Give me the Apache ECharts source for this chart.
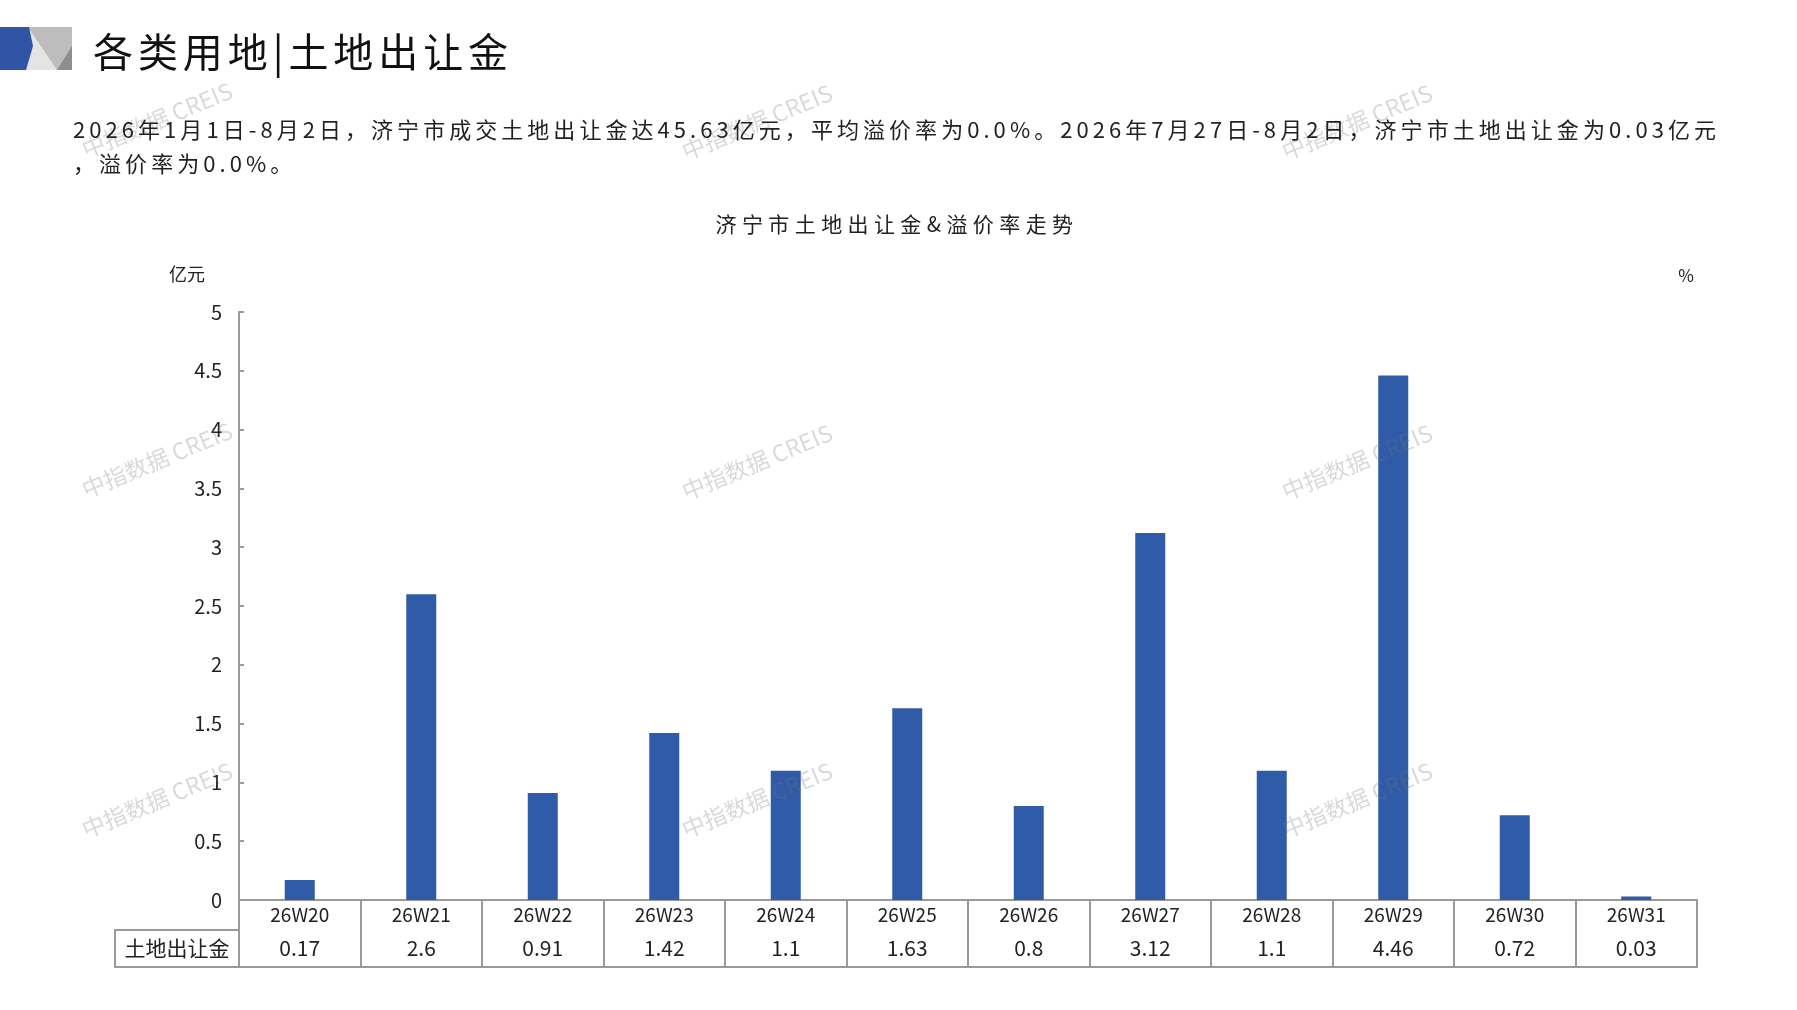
<!DOCTYPE html>
<html>
<head>
<meta charset="utf-8">
<script src="https://cdn.jsdelivr.net/npm/echarts@6/dist/echarts.min.js"></script>
<style>
  html, body { margin:0; padding:0; background:#fff; }
  #wrap { position:relative; width:1797px; height:1010px; overflow:hidden; background:#fff; }
  #chart { position:absolute; left:0; top:0; width:1797px; height:1010px; }
  .txt { position:absolute; white-space:nowrap; font-family:"Noto Sans CJK SC","Noto Sans",sans-serif; pointer-events:none; }
</style>
</head>
<body>
<div id="wrap">
  <div id="chart"></div>
  <svg style="position:absolute;left:0;top:0" width="80" height="80">
    <polygon points="25,27 72,27 72,70 25,70" fill="#bdbdbd"/>
    <polygon points="30,30 25,70 57,70" fill="#e4e4e4"/>
    <polygon points="57,70 72,70 72,46" fill="#8e8e8e"/>
    <polygon points="0,27 29,27 33,46 26,70 0,70" fill="#2F55A4"/>
  </svg>
  <div class="txt" id="hdr" data-w="420" style="left:93px;top:20px;font-size:40px;line-height:60px;color:#111;"></div>
  <div class="txt" id="p1" data-w="1647" style="left:73px;top:111px;font-size:22px;line-height:34px;color:#222;"></div>
  <div class="txt" id="p2" style="left:73px;top:145px;font-size:22px;line-height:34px;color:#222;"></div>
  <div class="txt" id="ctitle" data-w="363" style="top:208px;font-size:21px;line-height:30px;color:#222;"></div>
</div>
<script>
// ---- data ----
const pageTitle = "各类用地|土地出让金";
const paraLine1 = "2026年1月1日-8月2日，济宁市成交土地出让金达45.63亿元，平均溢价率为0.0%。2026年7月27日-8月2日，济宁市土地出让金为0.03亿元";
const paraLine2 = "，溢价率为0.0%。";
const chartTitle = "济宁市土地出让金&溢价率走势";
const categories = ["26W20","26W21","26W22","26W23","26W24","26W25","26W26","26W27","26W28","26W29","26W30","26W31"];
const landFee = [0.17, 2.6, 0.91, 1.42, 1.1, 1.63, 0.8, 3.12, 1.1, 4.46, 0.72, 0.03];
const seriesName = "土地出让金";
const leftAxisName = "亿元";
const rightAxisName = "%";
const watermarkText = "中指数据 CREIS";

// ---- html texts ----
document.getElementById('hdr').textContent = pageTitle;
document.getElementById('p1').textContent = paraLine1;
document.getElementById('p2').textContent = paraLine2;
document.getElementById('ctitle').textContent = chartTitle;
function fit(el) {
  const target = +el.dataset.w;
  el.style.letterSpacing = '0px';
  const w = el.getBoundingClientRect().width;
  const n = el.textContent.length;
  const ls = (target - w) / n;
  el.style.letterSpacing = ls + 'px';
  return ls;
}
fit(document.getElementById('hdr'));
const lsP = fit(document.getElementById('p1'));
document.getElementById('p2').style.letterSpacing = lsP + 'px';
const ct = document.getElementById('ctitle');
fit(ct);
ct.style.left = (897 - (+ct.dataset.w) / 2) + 'px';

// ---- chart ----
const chart = echarts.init(document.getElementById('chart'), null, {renderer:'canvas'});
const font = '"Noto Sans CJK SC","Noto Sans",sans-serif';
const lineColor = '#9a9a9a';
const wmPos = [[157,120],[757,122],[1357,122],[157,460],[757,462],[1357,462],[157,800],[757,800],[1357,800]];
const graphics = wmPos.map(p => ({
  type:'text', x:p[0], y:p[1], rotation: 0.39, z: 100, silent:true,
  style:{ text: watermarkText, x:0, y:0, align:'center', verticalAlign:'middle',
          fill:'rgba(120,120,120,0.28)', font:'23px ' + font }
}));
// left table cell (series name)
graphics.push(
  {type:'line', shape:{x1:115,y1:930,x2:239,y2:930}, style:{stroke:lineColor,lineWidth:2}},
  {type:'line', shape:{x1:115,y1:967,x2:239,y2:967}, style:{stroke:lineColor,lineWidth:2}},
  {type:'line', shape:{x1:115,y1:929,x2:115,y2:968}, style:{stroke:lineColor,lineWidth:2}},
  {type:'text', x:177, y:948, style:{text:seriesName, align:'center', verticalAlign:'middle', fill:'#222', font:'21px ' + font}}
);

const option = {
  backgroundColor:'#fff',
  animation:false,
  grid:{ left:239, right:100, top:312, bottom:110, containLabel:false },
  xAxis:[
    { type:'category', data:categories, position:'bottom',
      axisLine:{show:true, lineStyle:{color:lineColor, width:2}},
      axisTick:{show:true, length:30, interval:0, lineStyle:{color:lineColor, width:2}},
      axisLabel:{color:'#222', fontSize:19, fontFamily:font, verticalAlign:'middle', margin:15, interval:0} },
    { type:'category', data:landFee.map(v => String(v)), position:'bottom', offset:30,
      axisLine:{show:true, lineStyle:{color:lineColor, width:2}},
      axisTick:{show:true, length:37, interval:0, lineStyle:{color:lineColor, width:2}},
      axisLabel:{color:'#222', fontSize:21, fontFamily:font, verticalAlign:'middle', margin:18, interval:0} },
    { type:'category', data:categories, position:'bottom', offset:67,
      axisLine:{show:true, lineStyle:{color:lineColor, width:2}},
      axisTick:{show:true, inside:true, length:37, interval:0, lineStyle:{color:lineColor, width:2}},
      axisLabel:{show:false} }
  ],
  yAxis:[
    { type:'value', min:0, max:5, interval:0.5, position:'left',
      name:leftAxisName, nameLocation:'end', nameGap:29,
      nameTextStyle:{color:'#222', fontSize:18, fontFamily:font, align:'right', padding:[0,34,0,0]},
      axisLine:{show:true, lineStyle:{color:lineColor, width:2}},
      axisTick:{show:true, inside:true, length:5, lineStyle:{color:lineColor, width:2}},
      axisLabel:{color:'#222', fontSize:20, fontFamily:font, margin:17},
      splitLine:{show:false} },
    { type:'value', min:0, max:5, interval:0.5, position:'right',
      name:rightAxisName, nameLocation:'end', nameGap:28,
      nameTextStyle:{color:'#222', fontSize:17, fontFamily:font, align:'right', padding:[0,3,0,0]},
      axisLine:{show:false}, axisTick:{show:false}, axisLabel:{show:false}, splitLine:{show:false} }
  ],
  series:[
    { name:seriesName, type:'bar', data:landFee, xAxisIndex:0, yAxisIndex:0,
      barWidth:30, itemStyle:{color:'#2F5BA8'} }
  ],
  graphic: graphics
};
chart.setOption(option);
</script>
</body>
</html>
